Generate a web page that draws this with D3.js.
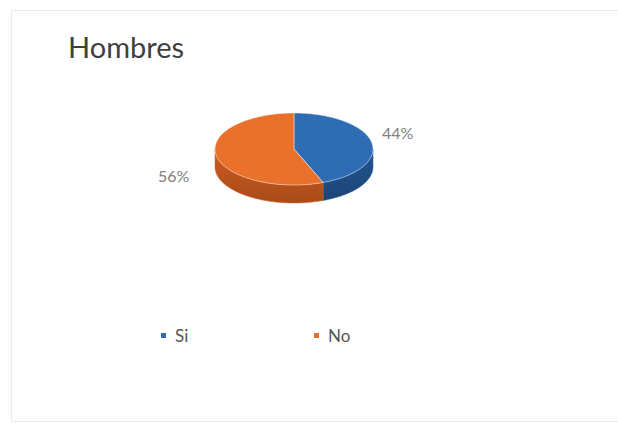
<!DOCTYPE html>
<html>
<head>
<meta charset="utf-8">
<script src="https://cdn.jsdelivr.net/npm/d3@7"></script>
<style>
  html, body { margin: 0; padding: 0; background: #ffffff; }
  svg { display: block; }
</style>
</head>
<body>
<svg id="chart" width="618" height="426"></svg>
<script>
// Survey answers for men
const title = "Hombres";
const categories = ["Si", "No"];
const values = [44, 56];
const topColors = ["#2e6db3", "#e9712b"];
const sideColors = ["#1e4a7f", "#b4511c"];

const W = 618, H = 426;
const svg = d3.select("#chart");

// chart frame
svg.append("path")
  .attr("d", `M618,10.5 H11.5 V421.5 H618`)
  .attr("fill", "none")
  .attr("stroke", "#ebebeb")
  .attr("stroke-width", 1);

svg.append("text")
  .attr("x", 68)
  .attr("y", 58)
  .attr("font-family", "Lato, 'Open Sans', sans-serif")
  .attr("font-size", 29)
  .attr("fill", "#3f3f3f")
  .text(title);

// 3D pie geometry
const cx = 294, cy = 149, rx = 79, ry = 36, depth = 18;
const pt = (a, dy = 0) => [cx + rx * Math.sin(a), cy - ry * Math.cos(a) + dy];
const arcPts = (a0, a1, dy = 0) => {
  const n = Math.max(2, Math.ceil(Math.abs(a1 - a0) / 0.02));
  return d3.range(n + 1).map(i => pt(a0 + (a1 - a0) * i / n, dy));
};
const line = d3.line();

const slices = d3.pie().sort(null).value(d => d)(values)
  .map((s, i) => ({ ...s, i, name: categories[i] }));

const pieG = svg.append("g");

// outer walls on the front half of the ellipse
const front0 = Math.PI / 2, front1 = 3 * Math.PI / 2;
const defs = svg.append("defs");
slices.forEach(s => {
  const g = defs.append("linearGradient")
    .attr("id", "side" + s.i)
    .attr("x1", 0).attr("y1", 0).attr("x2", 0).attr("y2", 1);
  g.append("stop").attr("offset", "0%").attr("stop-color", d3.color(sideColors[s.i]).brighter(0.35));
  g.append("stop").attr("offset", "100%").attr("stop-color", d3.color(sideColors[s.i]).darker(0.2));
});

slices.forEach(s => {
  const a0 = Math.max(s.startAngle, front0);
  const a1 = Math.min(s.endAngle, front1);
  if (a1 <= a0) return;
  const pts = arcPts(a0, a1).concat(arcPts(a1, a0, depth));
  pieG.append("path")
    .attr("d", line(pts) + "Z")
    .attr("fill", `url(#side${s.i})`)
    .attr("stroke", d3.color(sideColors[s.i]).brighter(0.6))
    .attr("stroke-width", 0.5);
});

// top faces
slices.forEach(s => {
  const pts = [[cx, cy]].concat(arcPts(s.startAngle, s.endAngle));
  pieG.append("path")
    .attr("d", line(pts) + "Z")
    .attr("fill", topColors[s.i])
    .attr("stroke", "rgba(255,255,255,0.55)")
    .attr("stroke-width", 0.8)
    .attr("stroke-linejoin", "round");
});

// percentage labels
const labelPos = [[382, 139], [158, 182]];
slices.forEach(s => {
  svg.append("text")
    .attr("x", labelPos[s.i][0])
    .attr("y", labelPos[s.i][1])
    .attr("font-family", "Lato, 'Open Sans', sans-serif")
    .attr("font-size", 16)
    .attr("fill", "#808080")
    .text(Math.round(s.value / d3.sum(values) * 100) + "%");
});

// legend
const legendX = d3.scalePoint().domain(categories).range([161, 314]);
const legend = svg.append("g");
categories.forEach((c, i) => {
  const x = legendX(c);
  legend.append("rect")
    .attr("x", x).attr("y", 333)
    .attr("width", 5).attr("height", 5)
    .attr("fill", topColors[i]);
  legend.append("text")
    .attr("x", x + 14).attr("y", 342)
    .attr("font-family", "Lato, 'Open Sans', sans-serif")
    .attr("font-size", 17)
    .attr("fill", "#555555")
    .text(c);
});
</script>
</body>
</html>
